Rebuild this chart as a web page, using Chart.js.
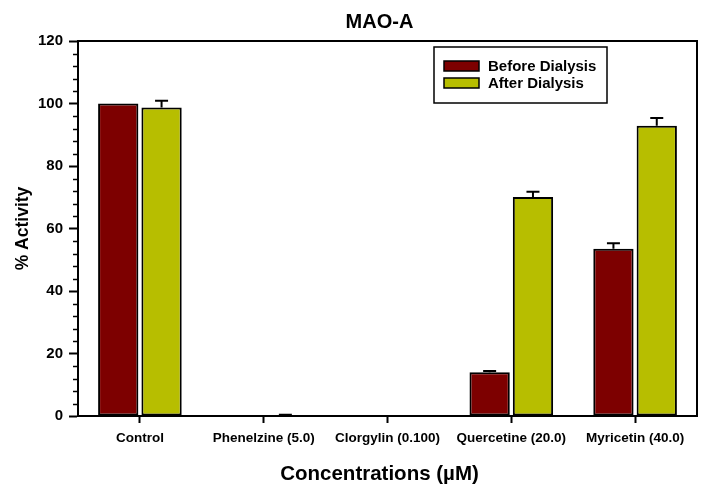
<!DOCTYPE html>
<html>
<head>
<meta charset="utf-8">
<script src="https://cdn.jsdelivr.net/npm/chart.js@4"></script>
<style>
  body { margin: 0; background: #fff; }
  #wrap { width: 704px; height: 495px; }
</style>
</head>
<body>
<div id="wrap"><canvas id="maoChart" width="704" height="495"></canvas></div>
<script>
// data
const categories = ['Control', 'Phenelzine (5.0)', 'Clorgylin (0.100)', 'Quercetine (20.0)', 'Myricetin (40.0)'];
const beforeValues = [100, 0, 0, 14.0, 53.5];
const beforeErrors = [0, 0, 0, 0.4, 1.8];
const afterValues = [98.7, 0, 0, 70.1, 92.9];
const afterErrors = [2.2, 0.4, 0, 1.7, 2.5];
const yTicks = [0, 20, 40, 60, 80, 100, 120];
const yMinorStep = 4;

const chartTitle = 'MAO-A';
const xTitle = 'Concentrations (µM)';
const yTitle = '% Activity';

const maroon = '#7d0000';
const olive = '#b7be00';
const font = "'Liberation Sans', Arial, sans-serif";

const canvas = document.getElementById('maoChart');

// box around the plot, minor ticks, error bars, titles and legend inside the plot
const extras = {
  id: 'extras',
  afterDatasetsDraw(chart) {
    const ctx = chart.ctx;
    const area = chart.chartArea;
    const y = chart.scales.y;
    ctx.save();

    // error bars (up only)
    chart.data.datasets.forEach((ds, i) => {
      const meta = chart.getDatasetMeta(i);
      meta.data.forEach((bar, j) => {
        const err = ds.errors[j];
        if (!err) return;
        const top = y.getPixelForValue(ds.data[j] + err);
        ctx.strokeStyle = '#000';
        ctx.lineWidth = 2;
        ctx.beginPath();
        ctx.moveTo(bar.x, bar.y);
        ctx.lineTo(bar.x, top);
        ctx.moveTo(bar.x - 6.5, top);
        ctx.lineTo(bar.x + 6.5, top);
        ctx.stroke();
      });
    });

    // frame
    ctx.strokeStyle = '#000';
    ctx.lineWidth = 2;
    ctx.strokeRect(area.left, area.top, area.right - area.left, area.bottom - area.top);

    // minor y ticks
    ctx.lineWidth = 1.5;
    for (let v = 0; v <= 120; v += yMinorStep) {
      if (v % 20 === 0) continue;
      const py = Math.round(y.getPixelForValue(v)) + 0.5;
      ctx.beginPath();
      ctx.moveTo(area.left - 5, py);
      ctx.lineTo(area.left, py);
      ctx.stroke();
    }

    // titles (the original sits a little left of the plot centre)
    const cx = (area.left + area.right) / 2 - 8;
    ctx.fillStyle = '#000';
    ctx.textAlign = 'center';
    ctx.textBaseline = 'middle';
    ctx.font = 'bold 20px ' + font;
    ctx.fillText(chartTitle, cx, 22);
    ctx.font = 'bold 20.5px ' + font;
    ctx.fillText(xTitle, cx, 474);

    // legend box
    const lx = 434, ly = 47, lw = 173, lh = 56;
    ctx.textAlign = 'left';
    ctx.fillStyle = '#fff';
    ctx.fillRect(lx, ly, lw, lh);
    ctx.lineWidth = 1.5;
    ctx.strokeRect(lx, ly, lw, lh);
    ctx.font = 'bold 15px ' + font;
    chart.data.datasets.forEach((ds, i) => {
      const rowY = ly + 19 + i * 17;
      ctx.fillStyle = ds.backgroundColor;
      ctx.fillRect(lx + 10, rowY - 5, 35, 10);
      ctx.strokeStyle = '#000';
      ctx.lineWidth = 1.5;
      ctx.strokeRect(lx + 10, rowY - 5, 35, 10);
      ctx.fillStyle = '#000';
      ctx.fillText(ds.label, lx + 54, rowY + 1);
    });

    ctx.restore();
  }
};

const maoChart = new Chart(canvas, {
  type: 'bar',
  data: {
    labels: categories,
    datasets: [
      {
        label: 'Before Dialysis',
        data: beforeValues,
        errors: beforeErrors,
        backgroundColor: maroon,
        borderColor: '#000',
        borderWidth: 2,
        borderSkipped: false
      },
      {
        label: 'After Dialysis',
        data: afterValues,
        errors: afterErrors,
        backgroundColor: olive,
        borderColor: '#000',
        borderWidth: 2,
        borderSkipped: false
      }
    ]
  },
  options: {
    responsive: false,
    animation: false,
    categoryPercentage: 0.7,
    barPercentage: 0.93,
    layout: { padding: { top: 41, right: 7, left: 0, bottom: 0 } },
    plugins: {
      legend: { display: false },
      tooltip: { enabled: false },
      title: { display: false }
    },
    scales: {
      x: {
        offset: true,
        afterFit: axis => { axis.height = 79; },
        grid: {
          offset: false,
          drawOnChartArea: false,
          tickLength: 7,
          tickWidth: 2,
          tickColor: '#000'
        },
        border: { color: '#000', width: 2 },
        ticks: {
          color: '#000',
          padding: 7,
          maxRotation: 0,
          autoSkip: false,
          font: { family: font, size: 13.5, weight: 'bold' }
        },
        title: { display: false }
      },
      y: {
        min: 0,
        max: 120,
        afterBuildTicks: axis => { axis.ticks = yTicks.map(v => ({ value: v })); },
        afterFit: axis => { axis.width = 78; },
        grid: {
          drawOnChartArea: false,
          tickLength: 9,
          tickWidth: 2,
          tickColor: '#000'
        },
        border: { color: '#000', width: 2 },
        ticks: {
          color: '#000',
          padding: 6,
          font: { family: font, size: 15, weight: 'bold' }
        },
        title: {
          display: true,
          text: yTitle,
          color: '#000',
          padding: { top: 13, bottom: 0 },
          font: { family: font, size: 17.5, weight: 'bold' }
        }
      }
    }
  },
  plugins: [extras]
});
</script>
</body>
</html>
